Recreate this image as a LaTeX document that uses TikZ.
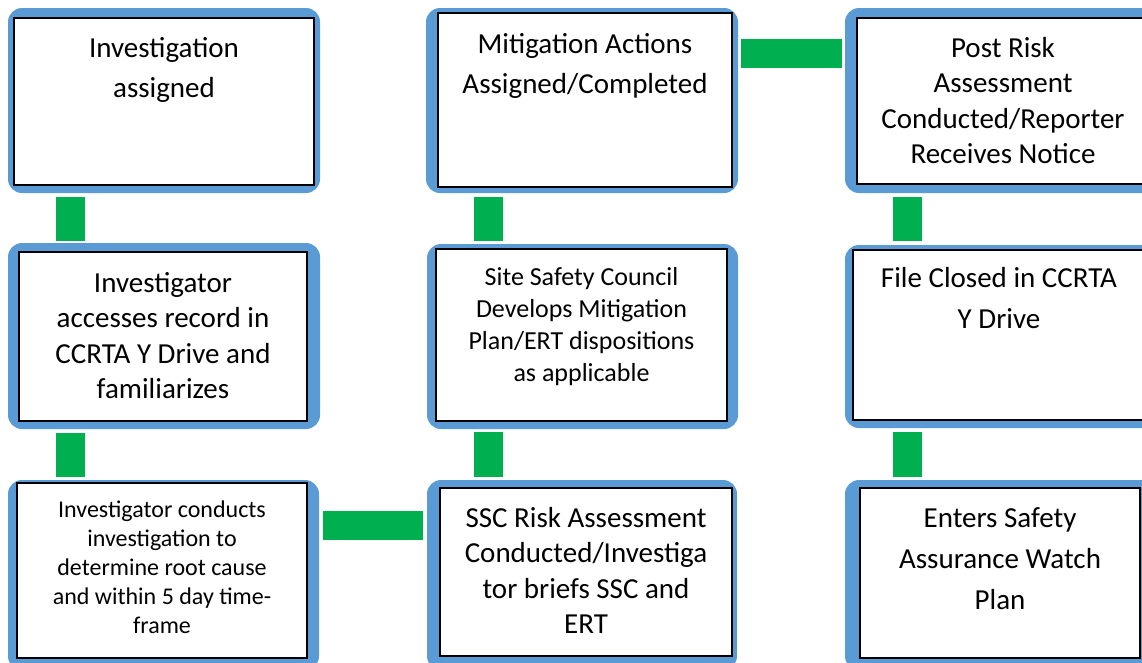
\documentclass[tikz,border=0pt]{standalone}
\usepackage{fontspec}
\setmainfont{Carlito}
\usetikzlibrary{calc}
\definecolor{boxblue}{HTML}{5B9BD5}
\definecolor{conngreen}{HTML}{00B050}
\newcommand\boxtext[3]{\fontsize{#1}{#2}\selectfont\begin{tabular}[t]{@{}c@{}}#3\end{tabular}}
\tikzset{
  outerbox/.style={rectangle, rounded corners=14pt, fill=boxblue, draw=none, inner sep=0pt},
  innerbox/.style={rectangle, fill=white, draw=black, line width=2pt, inner sep=0pt},
  boxlabel/.style={anchor=base, inner sep=0pt, text=black},
  conn/.style={draw=conngreen, line width=29pt, line cap=butt},
  hconn/.style={draw=conngreen, line width=29pt, line cap=butt},
}
\begin{document}
\begin{tikzpicture}[x=1pt,y=-1pt]
\useasboundingbox (0,0) rectangle (1142,662);
\clip (0,0) rectangle (1142,662);
% outer blue frames
\node[outerbox, minimum width=312pt, minimum height=185pt] (b1) at (164,100.5) {};
\node[outerbox, minimum width=312pt, minimum height=185pt] (b2) at (582,100.5) {};
\node[outerbox, minimum width=315pt, minimum height=185pt] (b3) at (1002.5,100.5) {};
\node[outerbox, minimum width=312pt, minimum height=186pt] (b4) at (164,336) {};
\node[outerbox, minimum width=311pt, minimum height=185pt] (b5) at (582.5,336.5) {};
\node[outerbox, minimum width=315pt, minimum height=183pt] (b6) at (1002.5,336.5) {};
\node[outerbox, minimum width=311pt, minimum height=190pt] (b7) at (163.5,575) {};
\node[outerbox, minimum width=310pt, minimum height=190pt] (b8) at (582,575) {};
\node[outerbox, minimum width=315pt, minimum height=190pt] (b9) at (1002.5,575) {};
% inner white boxes
\node[innerbox, minimum width=300pt, minimum height=167pt] (i1) at (164,101.5) {};
\node[innerbox, minimum width=294pt, minimum height=174pt] (i2) at (585,100) {};
\node[innerbox, minimum width=292pt, minimum height=166pt] (i3) at (1003,101) {};
\node[innerbox, minimum width=288pt, minimum height=169pt] (i4) at (163,336.5) {};
\node[innerbox, minimum width=291pt, minimum height=172pt] (i5) at (581.5,335) {};
\node[innerbox, minimum width=292pt, minimum height=170pt] (i6) at (999,335) {};
\node[innerbox, minimum width=290pt, minimum height=175pt] (i7) at (162,570.5) {};
\node[innerbox, minimum width=292pt, minimum height=168pt] (i8) at (586,572) {};
\node[innerbox, minimum width=280pt, minimum height=170pt] (i9) at (1000,573) {};
% texts
\node[boxlabel] (t1) at (164,57) {\boxtext{29}{40.7}{Investigation\\assigned}};
\node[boxlabel] (t2) at (585,53) {\boxtext{29}{40.7}{Mitigation Actions\\Assigned/Completed}};
\node[boxlabel] (t3) at (1003,57) {\boxtext{29}{35.5}{Post Risk\\Assessment\\Conducted/Reporter\\Receives Notice}};
\node[boxlabel] (t4) at (163,292) {\boxtext{29}{35.5}{Investigator\\accesses record in\\CCRTA Y Drive and\\familiarizes}};
\node[boxlabel] (t5) at (581.5,285) {\boxtext{26}{32.3}{Site Safety Council\\Develops Mitigation\\Plan/ERT dispositions\\as applicable}};
\node[boxlabel] (t6) at (999,287) {\boxtext{29}{41}{File Closed in CCRTA\\Y Drive}};
\node[boxlabel] (t7) at (162,517) {\boxtext{24}{29.2}{Investigator conducts\\investigation to\\determine root cause\\and within 5 day time-\\frame}};
\node[boxlabel] (t8) at (586,527) {\boxtext{29}{35.5}{SSC Risk Assessment\\Conducted/Investiga\\tor briefs SSC and\\ERT}};
\node[boxlabel] (t9) at (1000,527) {\boxtext{29}{41.3}{Enters Safety\\Assurance Watch\\Plan}};
% green connectors
\draw[conn] ($(b1.south west)+(62.5,4)$) -- ($(b4.north west)+(62.5,-2)$);
\draw[conn] ($(b4.south west)+(62.5,4)$) -- ($(b7.north west)+(62.5,-3)$);
\draw[hconn] ($(b7.north east)+(4,45.5)$) -- ($(b8.north west)+(-4,45.5)$);
\draw[conn] ($(b8.north west)+(61.5,-3)$) -- ($(b5.south west)+(61.5,3)$);
\draw[conn] ($(b5.north west)+(61.5,-3)$) -- ($(b2.south west)+(62.5,4)$);
\draw[hconn] ($(b2.north east)+(3,45.5)$) -- ($(b3.north west)+(-3,45.5)$);
\draw[conn] ($(b3.south west)+(62.5,4)$) -- ($(b6.north west)+(62.5,-4)$);
\draw[conn] ($(b6.south west)+(62.5,4)$) -- ($(b9.north west)+(62.5,-3)$);
\end{tikzpicture}
\end{document}
